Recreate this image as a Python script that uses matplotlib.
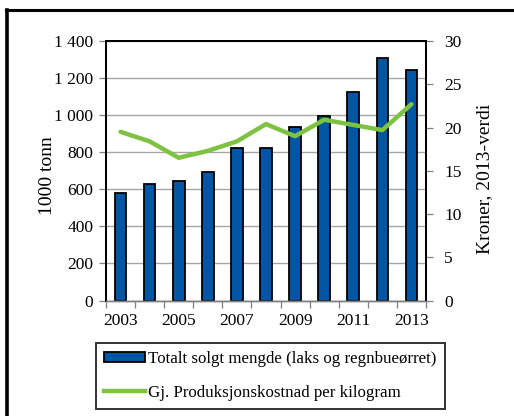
import matplotlib
matplotlib.use("Agg")
import matplotlib.pyplot as plt
from matplotlib.patches import Patch
from matplotlib.lines import Line2D
from matplotlib.ticker import FuncFormatter, MultipleLocator, FixedLocator

# data
years = [2003, 2004, 2005, 2006, 2007, 2008, 2009, 2010, 2011, 2012, 2013]
solgt_mengde = [581, 628, 647, 692, 822, 821, 937, 997, 1126, 1308, 1242]
prod_kostnad = [19.5, 18.4, 16.5, 17.3, 18.4, 20.4, 19.0, 20.9, 20.3, 19.7, 22.7]
year_labels = ["2003", "", "2005", "", "2007", "", "2009", "", "2011", "", "2013"]

bar_label = "Totalt solgt mengde (laks og regnbueørret)"
line_label = "Gj. Produksjonskostnad per kilogram"

plt.rcParams["font.family"] = ["Liberation Serif", "DejaVu Serif"]
plt.rcParams["font.size"] = 11

fig = plt.figure(figsize=(5.14, 4.16), dpi=100)
ax = fig.add_axes([0.2062, 0.2776, 0.6226, 0.6238])
ax2 = ax.twinx()

x = list(range(len(years)))
bar_col = "#0055A4"
line_col = "#7DC241"

ax.bar(x, solgt_mengde, width=0.4, color=bar_col, edgecolor="black", linewidth=1.3, zorder=2)
ax2.plot(x, prod_kostnad, color=line_col, linewidth=3.2, solid_capstyle="round", zorder=3)

ax.set_xlim(-0.5, len(years) - 0.5)
ax.set_ylim(0, 1400)
ax2.set_ylim(0, 30)

ax.yaxis.set_major_locator(MultipleLocator(200))
ax.yaxis.set_major_formatter(FuncFormatter(lambda v, p: f"{int(v):,}".replace(",", " ")))
ax2.yaxis.set_major_locator(MultipleLocator(5))

ax.set_xticks(x)
ax.set_xticklabels(year_labels)
ax.xaxis.set_minor_locator(FixedLocator([i - 0.5 for i in range(len(years) + 1)]))
ax.tick_params(axis="x", which="major", length=0, pad=9, labelsize=12.5)
ax.tick_params(axis="x", which="minor", length=5, color="#808080", width=0.9)
ax.tick_params(axis="y", length=5, color="#808080", width=0.9, labelsize=12.5, pad=4)
ax2.tick_params(axis="y", length=5, color="#808080", width=0.9, labelsize=12.5, pad=8)

ax.grid(axis="y", color="#A6A6A6", linewidth=1.0)
ax.set_axisbelow(True)

for a in (ax, ax2):
    for s in ("left", "right", "top"):
        a.spines[s].set_color("black")
        a.spines[s].set_linewidth(1.4)
    a.spines["bottom"].set_color("#808080")
    a.spines["bottom"].set_linewidth(1.0)

ax.set_ylabel("1000 tonn", fontsize=14)
ax2.set_ylabel("Kroner, 2013-verdi", fontsize=14)
ax.yaxis.set_label_coords(-0.155, 0.48)
ax2.yaxis.set_label_coords(1.157, 0.47)

handles = [
    Patch(facecolor=bar_col, edgecolor="black", linewidth=1.3, label=bar_label),
    Line2D([0], [0], color=line_col, linewidth=3.2, label=line_label),
]
leg = fig.legend(handles=handles, loc="center", bbox_to_anchor=(0.526, 0.0964),
                 fontsize=12.2, frameon=True, fancybox=False, handlelength=2.4,
                 handleheight=0.55, handletextpad=0.2, borderpad=0.5,
                 labelspacing=1.05, borderaxespad=0)
leg.get_frame().set_edgecolor("black")
leg.get_frame().set_linewidth(1.4)

# outer frame: top and left only
fig.add_artist(Line2D([6 / 514, 1.0], [1 - 10 / 416, 1 - 10 / 416], color="black",
                      linewidth=2.2, transform=fig.transFigure))
fig.add_artist(Line2D([7 / 514, 7 / 514], [0.0, 1 - 10 / 416], color="black",
                      linewidth=2.6, transform=fig.transFigure))

fig.savefig("out.png", dpi=100)
